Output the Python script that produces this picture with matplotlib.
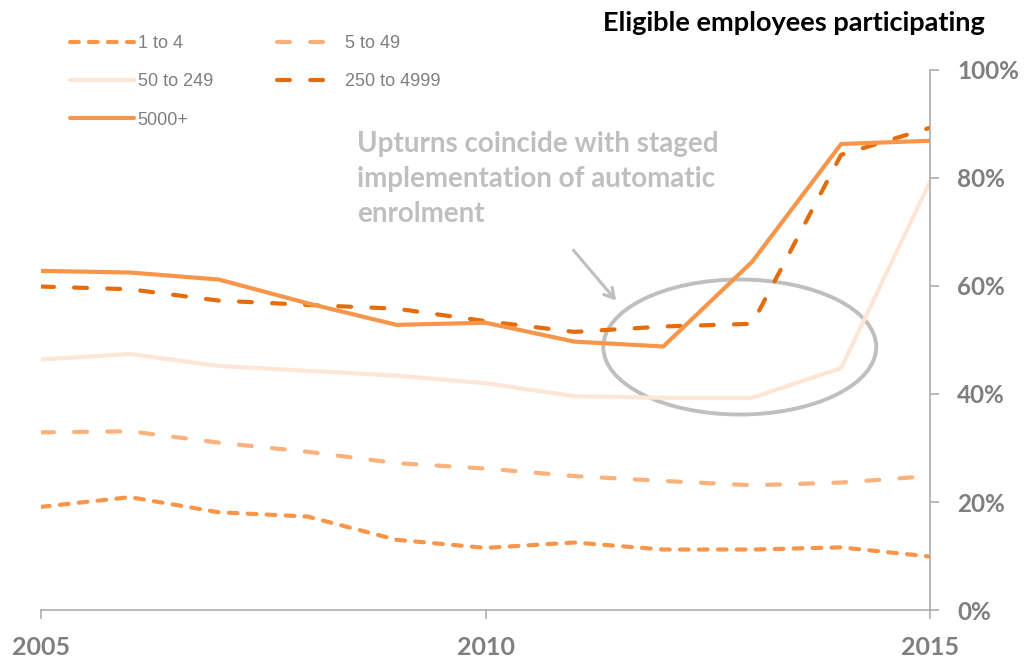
import matplotlib.pyplot as plt
from matplotlib.patches import Ellipse

# Participation rates by employer size (% of eligible employees)
years = [2005, 2006, 2007, 2008, 2009, 2010, 2011, 2012, 2013, 2014, 2015]
size_1_4 = [19.1, 20.9, 18.1, 17.3, 13.0, 11.5, 12.5, 11.2, 11.2, 11.6, 9.9]
size_5_49 = [32.9, 33.1, 31.0, 29.3, 27.2, 26.2, 24.8, 23.9, 23.1, 23.6, 24.8]
size_50_249 = [46.4, 47.4, 45.2, 44.3, 43.4, 42.0, 39.6, 39.3, 39.3, 44.8, 79.3]
size_250_4999 = [59.9, 59.4, 57.3, 56.5, 55.8, 53.5, 51.5, 52.5, 53.0, 84.3, 89.3]
size_5000 = [62.8, 62.5, 61.2, 56.8, 52.8, 53.2, 49.7, 48.8, 64.5, 86.3, 86.9]

x_ticks = [2005, 2010, 2015]
y_ticks = [0, 20, 40, 60, 80, 100]
y_labels = ['0%', '20%', '40%', '60%', '80%', '100%']

grey_txt = '#7F7F7F'
grey_note = '#BFBFBF'

fig = plt.figure(figsize=(10.28, 6.6), dpi=100)
ax = fig.add_axes([41 / 1028, 50 / 660, (930 - 41) / 1028, (610 - 70) / 660])

lw = 3
l1, = ax.plot(years, size_1_4, color='#F7964A', lw=lw, dashes=(2.1, 2.45),
              dash_capstyle='round', label='1 to 4')
l2, = ax.plot(years, size_5_49, color='#FAB27D', lw=lw, dashes=(3.1, 4.85),
              dash_capstyle='round', label='5 to 49')
l3, = ax.plot(years, size_50_249, color='#FDE6D6', lw=lw,
              solid_capstyle='round', label='50 to 249')
l4, = ax.plot(years, size_250_4999, color='#E46C0A', lw=lw, dashes=(3.1, 4.85),
              dash_capstyle='round', label='250 to 4999')
l5, = ax.plot(years, size_5000, color='#F7964A', lw=lw,
              solid_capstyle='round', label='5000+')

ax.set_xlim(2005, 2015)
ax.set_ylim(0, 100)

for side in ['left', 'top']:
    ax.spines[side].set_visible(False)
for side in ['right', 'bottom']:
    ax.spines[side].set_color('#A6A6A6')
    ax.spines[side].set_linewidth(1.1)

ax.yaxis.tick_right()
ax.set_yticks(y_ticks)
ax.set_yticklabels(y_labels)
ax.set_xticks(x_ticks)
ax.set_xticklabels([str(y) for y in x_ticks])
ax.tick_params(axis='both', direction='out', length=6.5, width=1.1, color='#A6A6A6',
               labelcolor=grey_txt)
ax.tick_params(axis='y', pad=13)
ax.tick_params(axis='x', pad=12)
for lab in ax.get_yticklabels():
    lab.set_fontfamily('Lato')
    lab.set_fontweight('bold')
    lab.set_fontsize(17.5)
for lab in ax.get_xticklabels():
    lab.set_fontfamily('Lato')
    lab.set_fontweight('bold')
    lab.set_fontsize(18)

# highlight the auto-enrolment upturn
ax.add_patch(Ellipse((2012.86, 48.7), 3.07, 25, fill=False, edgecolor=grey_note, lw=2.8))
ax.annotate('', xy=(2011.49, 56.9), xytext=(2010.97, 67.0),
            arrowprops=dict(arrowstyle='->,head_length=0.7,head_width=0.4',
                            color=grey_note, lw=2.2))
ax.text(357 / 1028, 1 - 131 / 660, 'Upturns coincide with staged\nimplementation of automatic\nenrolment',
        transform=fig.transFigure, ha='left', va='top', color=grey_note,
        fontfamily='Lato', fontweight='bold', fontsize=20, linespacing=1.42)

fig.text(985 / 1028, 1 - 23 / 660, 'Eligible employees participating', ha='right', va='center',
         fontfamily='Lato', fontweight='bold', fontsize=19.5, color='black')

leg = fig.legend([l1, l3, l5, l2, l4],
                 ['1 to 4', '50 to 249', '5000+', '5 to 49', '250 to 4999'],
                 ncol=2, loc='upper left', bbox_to_anchor=(61 / 1028, 1 - 26 / 660),
                 frameon=False, borderpad=0, handlelength=3.55, handletextpad=0.2,
                 columnspacing=3.55, labelspacing=1.18,
                 prop={'family': 'Liberation Sans', 'size': 13})
for t in leg.get_texts():
    t.set_color(grey_txt)

fig.savefig('out.png', dpi=100)
